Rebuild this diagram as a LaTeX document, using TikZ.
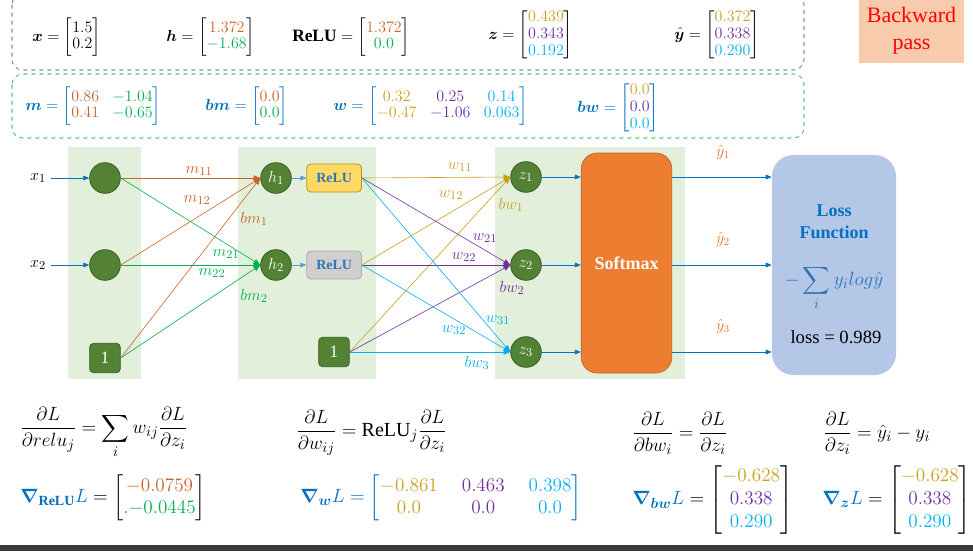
\documentclass[tikz,border=0pt]{standalone}
\usepackage{amsmath}
\usepackage{fontspec}
\setmainfont{Liberation Serif}
\usepackage{bm}
\usetikzlibrary{arrows.meta, positioning, calc}

\begin{document}
\begin{tikzpicture}
            [
                x=0.75pt, y=-0.75pt,
                neuron/.style={circle, fill=nodeGreen, draw=nodeGreenDark, line width=0.6pt,
                    minimum size=23pt, inner sep=0pt, text=white, font=\fontsize{13}{15}\selectfont},
                bias unit/.style={rectangle, rounded corners=3pt, fill=nodeGreen, draw=nodeGreenDark,
                    line width=0.6pt, minimum width=23pt, minimum height=22pt, inner sep=0pt,
                    text=white, font=\fontsize{13}{15}\selectfont},
                relu box/.style={rectangle, rounded corners=3pt, line width=0.6pt, minimum width=41pt,
                    minimum height=21pt, inner sep=0pt, text=reluBlue, font=\bfseries\fontsize{10.5}{12}\selectfont},
                vec eq/.style={anchor=west, inner sep=0pt, font=\fontsize{13}{12.5}\selectfont},
                grad eq/.style={anchor=west, inner sep=0pt, font=\fontsize{15}{17}\selectfont},
                weight/.style={inner sep=0pt, font=\fontsize{13}{15}\selectfont},
                hat label/.style={text=yhatOrange, font=\fontsize{12}{14}\selectfont},
                link/.style={-{Triangle[length=5pt, width=4pt]}, line width=0.45pt},
                feed/.style={-{Triangle[length=4.5pt, width=3.5pt]}, line width=0.6pt, draw=arrowBlue}
            ]
            \definecolor{nodeGreen}{HTML}{548235}
            \definecolor{nodeGreenDark}{HTML}{3A5A24}
            \definecolor{panelGreen}{HTML}{E2EFDA}
            \definecolor{mOrange}{HTML}{C8642A}
            \definecolor{mGreen}{HTML}{00B050}
            \definecolor{wGold}{HTML}{C9A01E}
            \definecolor{wPurple}{HTML}{7030A0}
            \definecolor{wCyan}{HTML}{00B0F0}
            \definecolor{arrowBlue}{HTML}{0070C0}
            \definecolor{lightBlue}{HTML}{5B9BD5}
            \definecolor{lossBlue}{HTML}{0070C0}
            \definecolor{lossFill}{HTML}{B4C7E7}
            \definecolor{softOrange}{HTML}{ED7D31}
            \definecolor{reluGold}{HTML}{FFD966}
            \definecolor{reluGoldDark}{HTML}{BF9000}
            \definecolor{reluGray}{HTML}{D0CECE}
            \definecolor{reluGrayDark}{HTML}{AEAAAA}
            \definecolor{reluBlue}{HTML}{2E75B6}
            \definecolor{yhatOrange}{HTML}{E3782B}
            \definecolor{topBlue}{HTML}{8497B0}
            \definecolor{boxGreen}{HTML}{55C98A}
            \definecolor{backFill}{HTML}{F8CBAD}
            \definecolor{barGray}{HTML}{3B3B3B}
            \useasboundingbox (0,0) rectangle (973,550);

            \fill[panelGreen] (68,147) rectangle (141,379);
            \fill[panelGreen] (238,147) rectangle (376,379);
            \fill[panelGreen] (495,147) rectangle (685,379);
            \draw[topBlue, dashed, line width=0.8pt, rounded corners=8pt] (12,-6) rectangle (804,70);
            \draw[boxGreen, dashed, line width=0.8pt, rounded corners=8pt] (12,74) rectangle (804,138);
            \fill[barGray] (0,545) rectangle (973,552);

            \node [fill=backFill, text=red, align=center, minimum width=78.75pt, minimum height=48pt,
                font=\fontsize{16.5}{20}\selectfont] (back) at (911.5,31) {Backward\\pass};

            \node [vec eq] (xvec) at (32,37) {$\boldsymbol{x}=\begin{bmatrix}1.5\\0.2\end{bmatrix}$};
            \node [vec eq] (hvec) at (166,37)
                {$\boldsymbol{h}=\begin{bmatrix}\textcolor{mOrange}{1.372}\\\textcolor{mGreen}{-1.68}\end{bmatrix}$};
            \node [vec eq] (reluvec) at (292,37)
                {$\mathbf{ReLU}=\begin{bmatrix}\textcolor{mOrange}{1.372}\\\textcolor{mGreen}{0.0}\end{bmatrix}$};
            \node [vec eq] (zvec) at (488,35)
                {$\boldsymbol{z}=\begin{bmatrix}\textcolor{wGold}{0.439}\\\textcolor{wPurple}{0.343}\\\textcolor{wCyan}{0.192}\end{bmatrix}$};
            \node [vec eq] (yhatvec) at (674,35)
                {$\hat{\boldsymbol{y}}=\begin{bmatrix}\textcolor{wGold}{0.372}\\\textcolor{wPurple}{0.338}\\\textcolor{wCyan}{0.290}\end{bmatrix}$};

            \node [vec eq, text=lossBlue] (mmat) at (25,106)
                {$\boldsymbol{m}=\begin{bmatrix}\textcolor{mOrange}{0.86}&\textcolor{mGreen}{-1.04}\\\textcolor{mOrange}{0.41}&\textcolor{mGreen}{-0.65}\end{bmatrix}$};
            \node [vec eq, text=lossBlue] (bmvec) at (205,106)
                {$\boldsymbol{bm}=\begin{bmatrix}\textcolor{mOrange}{0.0}\\\textcolor{mGreen}{0.0}\end{bmatrix}$};
            \node [vec eq, text=lossBlue] (wmat) at (333,106)
                {$\boldsymbol{w}=\begin{bmatrix}\textcolor{wGold}{0.32}&\textcolor{wPurple}{0.25}&\textcolor{wCyan}{0.14}\\\textcolor{wGold}{-0.47}&\textcolor{wPurple}{-1.06}&\textcolor{wCyan}{0.063}\end{bmatrix}$};
            \node [vec eq, text=lossBlue] (bwvec) at (577,108)
                {$\boldsymbol{bw}=\begin{bmatrix}\textcolor{wGold}{0.0}\\\textcolor{wPurple}{0.0}\\\textcolor{wCyan}{0.0}\end{bmatrix}$};

            \node [neuron] (in1) at (105,178) {};
            \node [neuron] (in2) at (105,265) {};
            \node [bias unit] (b1) at (105,358) {1};
            \node [neuron] (h1) at (276,178) {$h_1$};
            \node [neuron] (h2) at (276,265) {$h_2$};
            \node [relu box, fill=reluGold, draw=reluGoldDark, right=11pt of h1] (r1) {ReLU};
            \node [relu box, fill=reluGray, draw=reluGrayDark, right=11pt of h2] (r2) {ReLU};
            \node [bias unit] (b2) at (334,352) {1};
            \node [neuron] (z1) at (526,177) {$z_1$};
            \node [neuron] (z2) at (526,265) {$z_2$};
            \node [neuron] (z3) at (526,352) {$z_3$};
            \node [rectangle, rounded corners=12pt, fill=softOrange, draw=softOrange!80!black, line width=0.5pt,
                minimum width=68pt, minimum height=165pt, text=white, font=\bfseries\fontsize{13.5}{15}\selectfont]
                (sm) at (626.5,263) {Softmax};
            \node [rectangle, rounded corners=16pt, fill=lossFill, minimum width=93pt, minimum height=165pt]
                (loss) at (834,265) {};
            \node [text=lossBlue, align=center, font=\bfseries\fontsize{13.5}{16.5}\selectfont] (losstitle)
                at (834,222) {Loss\\Function};
            \node [text=reluBlue, font=\fontsize{15}{17}\selectfont] (lossformula) at (834,288)
                {$-\displaystyle\sum_i y_i log\hat{y}$};
            \node [font=\fontsize{14}{16}\selectfont] (lossvalue) at (836,337) {loss = 0.989};

            \node [font=\fontsize{13}{15}\selectfont] (x1) at (38,178) {$x_1$};
            \node [font=\fontsize{13}{15}\selectfont] (x2) at (38,265) {$x_2$};
            \draw [feed] (x1) -- (in1);
            \draw [feed] (x2) -- (in2);

            \draw [link, mOrange] (in1.east) -- (h1.west);
            \draw [link, mOrange] (in2.east) -- (h1.west);
            \draw [link, mOrange] (b1.east) -- (h1.west);
            \draw [link, mGreen] (in1.east) -- (h2.west);
            \draw [link, mGreen] (in2.east) -- (h2.west);
            \draw [link, mGreen] (b1.east) -- (h2.west);
            \node [weight, text=mOrange] (lm11) at (199,171) {$m_{11}$};
            \node [weight, text=mOrange] (lm12) at (197,200) {$m_{12}$};
            \node [weight, text=mOrange] (lbm1) at (254,219) {$bm_1$};
            \node [weight, text=mGreen] (lm21) at (226,254) {$m_{21}$};
            \node [weight, text=mGreen] (lm22) at (212,273) {$m_{22}$};
            \node [weight, text=mGreen] (lbm2) at (254,296) {$bm_2$};

            \draw [feed, draw=lightBlue] (h1) -- (r1);
            \draw [feed, draw=lightBlue] (h2) -- (r2);

            \draw [link, wGold] (r1.east) -- (z1.west);
            \draw [link, wGold] (r2.east) -- (z1.west);
            \draw [link, wGold] (b2.east) -- (z1.west);
            \draw [link, wPurple] (r1.east) -- (z2.west);
            \draw [link, wPurple] (r2.east) -- (z2.west);
            \draw [link, wPurple] (b2.east) -- (z2.west);
            \draw [link, wCyan] (r1.east) -- (z3.west);
            \draw [link, wCyan] (r2.east) -- (z3.west);
            \draw [link, wCyan] (b2.east) -- (z3.west);
            \node [weight, text=wGold] (lw11) at (460,167) {$w_{11}$};
            \node [weight, text=wGold] (lw12) at (451,195) {$w_{12}$};
            \node [weight, text=wGold] (lbw1) at (511,205) {$bw_1$};
            \node [weight, text=wPurple] (lw21) at (485,238) {$w_{21}$};
            \node [weight, text=wPurple] (lw22) at (464,257) {$w_{22}$};
            \node [weight, text=wPurple] (lbw2) at (512,288) {$bw_2$};
            \node [weight, text=wCyan] (lw31) at (498,320) {$w_{31}$};
            \node [weight, text=wCyan] (lw32) at (454,330) {$w_{32}$};
            \node [weight, text=wCyan] (lbw3) at (477,363) {$bw_3$};

            \draw [feed] (z1) -- (sm.west |- z1);
            \draw [feed] (z2) -- (sm.west |- z2);
            \draw [feed] (z3) -- (sm.west |- z3);
            \draw [feed] (sm.east |- z1) -- (loss.west |- z1);
            \draw [feed] (sm.east |- z2) -- (loss.west |- z2);
            \draw [feed] (sm.east |- z3) -- (loss.west |- z3);
            \node [hat label] (yh1) at (723,152) {$\hat{y}_1$};
            \node [hat label] (yh2) at (723,239) {$\hat{y}_2$};
            \node [hat label] (yh3) at (723,326) {$\hat{y}_3$};

            \node [grad eq] (dLrelu) at (20,433)
                {$\dfrac{\partial L}{\partial relu_j}=\displaystyle\sum_i w_{ij}\dfrac{\partial L}{\partial z_i}$};
            \node [grad eq] (dLw) at (296,433)
                {$\dfrac{\partial L}{\partial w_{ij}}=\mathrm{ReLU}_j\dfrac{\partial L}{\partial z_i}$};
            \node [grad eq] (dLbw) at (632,433)
                {$\dfrac{\partial L}{\partial bw_i}=\dfrac{\partial L}{\partial z_i}$};
            \node [grad eq] (dLz) at (823,433)
                {$\dfrac{\partial L}{\partial z_i}=\hat{y}_i-y_i$};

            \node [grad eq] (gradrelu) at (20,498)
                {$\textcolor{lossBlue}{\boldsymbol{\nabla}_{\mathbf{ReLU}}L}=\begin{bmatrix}\textcolor{mOrange}{-0.0759}\\\textcolor{mGreen}{.{-0.0445}}\end{bmatrix}$};
            \node [grad eq, text=lossBlue] (gradw) at (300,498)
                {$\setlength{\arraycolsep}{9pt}\boldsymbol{\nabla}_{\boldsymbol{w}}L=\begin{bmatrix}\textcolor{wGold}{-0.861}&\textcolor{wPurple}{0.463}&\textcolor{wCyan}{0.398}\\\textcolor{wGold}{0.0}&\textcolor{wPurple}{0.0}&\textcolor{wCyan}{0.0}\end{bmatrix}$};
            \node [grad eq] (gradbw) at (632,500)
                {$\textcolor{lossBlue}{\boldsymbol{\nabla}_{\boldsymbol{bw}}L}=\begin{bmatrix}\textcolor{wGold}{-0.628}\\\textcolor{wPurple}{0.338}\\\textcolor{wCyan}{0.290}\end{bmatrix}$};
            \node [grad eq] (gradz) at (822,500)
                {$\textcolor{lossBlue}{\boldsymbol{\nabla}_{\boldsymbol{z}}L}=\begin{bmatrix}\textcolor{wGold}{-0.628}\\\textcolor{wPurple}{0.338}\\\textcolor{wCyan}{0.290}\end{bmatrix}$};
        \end{tikzpicture}
\end{document}
